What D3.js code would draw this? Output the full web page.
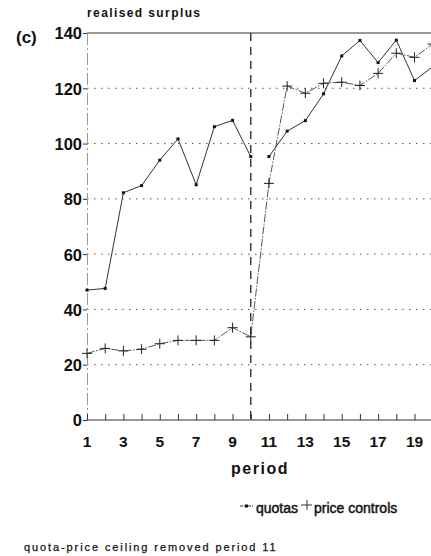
<!DOCTYPE html>
<html>
<head>
<meta charset="utf-8">
<script src="https://cdn.jsdelivr.net/npm/d3@7/dist/d3.min.js"></script>
<style>
  html, body { margin: 0; padding: 0; background: #fff; }
  svg { display: block; font-family: "Liberation Sans", Arial, sans-serif; }
</style>
</head>
<body>
<svg id="chart" width="431" height="556"></svg>
<script>
// Realised surplus per period under two regimes
const periods = d3.range(1, 21);
const quotas = [47, 47.6, 82.2, 84.8, 94, 101.7, 85.1, 106.1, 108.4, 95.3,
                95.3, 104.5, 108.3, 118, 131.7, 137.3, 129.3, 137.4, 122.8, 127.8];
const priceControls = [24.1, 25.9, 25, 25.6, 27.6, 28.8, 28.8, 28.8, 33.4, 30.1,
                       85.6, 120.8, 118.2, 121.8, 122.2, 121, 125.4, 132.7, 131.2, 136];
const yTicks = [0, 20, 40, 60, 80, 100, 120, 140];
const xTickLabels = [1, 3, 5, 7, 9, 11, 13, 15, 17, 19];
const removalPeriod = 10;

const svg = d3.select("#chart");
const x = d3.scaleLinear().domain([1, 20]).range([87, 432.7]);
const y = d3.scaleLinear().domain([0, 140]).range([420, 33]);

// horizontal dotted gridlines
svg.append("g").selectAll("line")
  .data(yTicks.filter(v => v > 0 && v < 140))
  .join("line")
  .attr("x1", x(1)).attr("x2", 431)
  .attr("y1", d => y(d)).attr("y2", d => y(d))
  .attr("stroke", "#555").attr("stroke-width", 1)
  .attr("stroke-dasharray", "1.5,5.5");

// top frame line
svg.append("line")
  .attr("x1", x(1)).attr("x2", 431).attr("y1", y(140)).attr("y2", y(140))
  .attr("stroke", "#333").attr("stroke-width", 1);

// left axis (faint dash-dot)
const yAxis = d3.axisLeft(y).tickValues(yTicks).tickSize(4).tickFormat(d3.format("d"));
const gy = svg.append("g").attr("transform", `translate(${x(1)},0)`).call(yAxis);
gy.select(".domain").attr("stroke", "#999").attr("stroke-dasharray", "12,3,2,3");
gy.selectAll(".tick line").attr("stroke", "#333");
gy.selectAll(".tick text")
  .attr("x", -5).attr("dy", "0.36em")
  .attr("font-size", 16.5).attr("font-weight", "bold").attr("fill", "#111")
  .attr("font-family", "'Liberation Sans', Arial, sans-serif");

// bottom axis with inward ticks at each period
const xAxis = d3.axisBottom(x).tickValues(periods).tickSize(-6).tickFormat("");
const gx = svg.append("g").attr("transform", `translate(0,${y(0)})`).call(xAxis);
gx.select(".domain").attr("stroke", "#333").attr("d", `M${x(1)},0H431`);
gx.selectAll(".tick line").attr("stroke", "#333");

svg.append("g").selectAll("text")
  .data(xTickLabels)
  .join("text")
  .attr("x", d => x(d)).attr("y", 447)
  .attr("text-anchor", "middle")
  .attr("font-size", 15.5).attr("font-weight", "bold").attr("fill", "#111")
  .text(d => d);

// regime change marker
svg.append("line")
  .attr("x1", x(removalPeriod)).attr("x2", x(removalPeriod))
  .attr("y1", y(140)).attr("y2", y(0))
  .attr("stroke", "#222").attr("stroke-width", 1.3)
  .attr("stroke-dasharray", "8,6");

const lineGen = d3.line().x((d, i) => x(periods[i])).y(d => y(d));

// price controls series
svg.append("path")
  .datum(priceControls)
  .attr("d", lineGen)
  .attr("fill", "none").attr("stroke", "#555").attr("stroke-width", 1)
  .attr("stroke-dasharray", "8,1.5,1.5,1.5");
const plus = svg.append("g").selectAll("g")
  .data(priceControls)
  .join("g")
  .attr("transform", (d, i) => `translate(${x(periods[i])},${y(d)})`);
plus.append("line").attr("x1", -5).attr("x2", 5).attr("stroke", "#222");
plus.append("line").attr("y1", -5).attr("y2", 5).attr("stroke", "#222");

// quotas series: drawn as two runs, before and after the ceiling is removed
const quotaRuns = [
  quotas.slice(0, removalPeriod).map((v, i) => [periods[i], v]),
  quotas.slice(removalPeriod).map((v, i) => [periods[i + removalPeriod], v])
];
const runGen = d3.line().x(d => x(d[0])).y(d => y(d[1]));
svg.append("g").selectAll("path")
  .data(quotaRuns)
  .join("path")
  .attr("d", runGen)
  .attr("fill", "none").attr("stroke", "#333").attr("stroke-width", 1);
svg.append("g").selectAll("rect")
  .data(quotas)
  .join("rect")
  .attr("x", (d, i) => x(periods[i]) - 1.5).attr("y", d => y(d) - 1.5)
  .attr("width", 3).attr("height", 3).attr("fill", "#111");

// titles and notes
svg.append("text").attr("x", 87).attr("y", 17)
  .attr("font-size", 12).attr("font-weight", "bold").attr("letter-spacing", 1.4).attr("fill", "#111")
  .text("realised surplus");
svg.append("text").attr("x", 16).attr("y", 43)
  .attr("font-size", 17).attr("font-weight", "bold").attr("fill", "#111")
  .text("(c)");
svg.append("text").attr("x", 260).attr("y", 474)
  .attr("text-anchor", "middle")
  .attr("font-size", 16).attr("font-weight", "bold").attr("letter-spacing", 1.5).attr("fill", "#111")
  .text("period");

// legend
const lg = svg.append("g").attr("transform", "translate(0,513)");
lg.append("line").attr("x1", 240).attr("x2", 253).attr("y1", -7).attr("y2", -7)
  .attr("stroke", "#333").attr("stroke-dasharray", "3,1");
lg.append("rect").attr("x", 245).attr("y", -8.5).attr("width", 3).attr("height", 3).attr("fill", "#111");
lg.append("text").attr("x", 256).attr("y", 0)
  .attr("font-size", 14).attr("stroke", "#111").attr("stroke-width", 0.45).attr("fill", "#111")
  .text("quotas");
lg.append("line").attr("x1", 301).attr("x2", 312).attr("y1", -8).attr("y2", -8).attr("stroke", "#333");
lg.append("line").attr("x1", 307).attr("x2", 307).attr("y1", -13).attr("y2", -3).attr("stroke", "#333");
lg.append("text").attr("x", 314).attr("y", 0)
  .attr("font-size", 14).attr("stroke", "#111").attr("stroke-width", 0.45).attr("fill", "#111")
  .text("price controls");

svg.append("text").attr("x", 24).attr("y", 551)
  .attr("font-size", 11).attr("letter-spacing", 1.9)
  .attr("stroke", "#111").attr("stroke-width", 0.25).attr("fill", "#111")
  .text("quota-price ceiling removed period 11");
</script>
</body>
</html>
